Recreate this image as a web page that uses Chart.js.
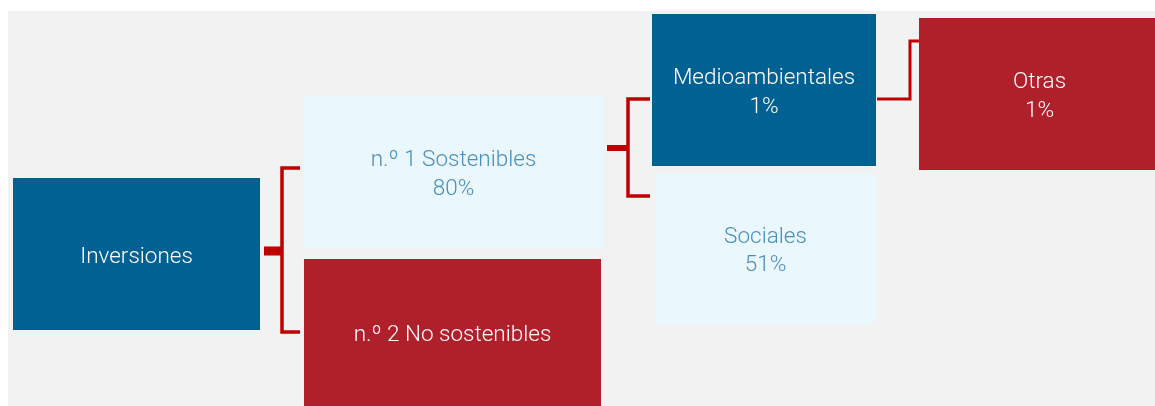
<!DOCTYPE html>
<html>
<head>
<meta charset="utf-8">
<script src="https://cdn.jsdelivr.net/npm/chart.js@4/dist/chart.umd.min.js"></script>
<style>
    html, body { margin: 0; padding: 0; background: #ffffff; }
    #wrap { width: 1155px; height: 406px; position: relative; }
</style>
</head>
<body>
<div id="wrap"><canvas id="chart-canvas"></canvas></div>
<script>
// tree nodes
const nodeLabels = ['Inversiones', 'n.º 1 Sostenibles', 'n.º 2 No sostenibles', 'Medioambientales', 'Sociales', 'Otras'];
const nodeValues = [null, 80, null, 1, 51, 1];
const nodeParents = [-1, 0, 0, 1, 1, 3];
const nodeKinds = ['dark', 'light', 'red', 'dark', 'light', 'red'];

// layout of the boxes, in axis units (x: 0..1155, y: 0..406 top-down)
const boxLeft = [13, 304, 304, 652, 655, 919];
const boxRight = [260, 603, 601, 876, 876, 1160];
const boxTop = [178, 96, 259, 14, 173, 18];
const boxBottom = [330, 248, 410, 166, 324, 170];

// connector paths, in axis units
const connectors = [
    { points: [[264, 251], [282, 251]], width: 9 },
    { points: [[300, 168], [282, 168], [282, 332], [300, 332]], width: 3.5 },
    { points: [[607, 148], [628, 148]], width: 6 },
    { points: [[650, 99], [628, 99], [628, 196], [650, 196]], width: 3.5 },
    { points: [[877, 99], [910, 99], [910, 41], [919, 41]], width: 3 }
];

const kindStyles = {
    dark: { fill: '#016192', text: '#ffffff' },
    light: { fill: '#eaf7fd', text: '#4a8fbd' },
    red: { fill: '#b0202b', text: '#ffffff' }
};

const ctx = document.getElementById('chart-canvas').getContext('2d');

const boxPlugin = {
    id: 'boxPlugin',
    beforeDatasetsDraw(chart) {
        const c = chart.ctx;
        const xs = chart.scales.x;
        const ys = chart.scales.y;
        // grey panel
        c.save();
        c.fillStyle = '#f2f2f2';
        c.fillRect(xs.getPixelForValue(8), ys.getPixelForValue(11),
            xs.getPixelForValue(1155) - xs.getPixelForValue(8),
            ys.getPixelForValue(406) - ys.getPixelForValue(11));

        nodeLabels.forEach((label, i) => {
            const style = kindStyles[nodeKinds[i]];
            const x0 = xs.getPixelForValue(boxLeft[i]);
            const x1 = xs.getPixelForValue(boxRight[i]);
            const y0 = ys.getPixelForValue(boxTop[i]);
            const y1 = ys.getPixelForValue(boxBottom[i]);
            c.fillStyle = style.fill;
            c.fillRect(x0, y0, x1 - x0, y1 - y0);

            const lines = [label];
            if (nodeValues[i] !== null) lines.push(nodeValues[i] + '%');
            const cx = (x0 + x1) / 2;
            // the bottom box is cut off by the panel, centre on the visible part
            const visBottom = Math.min(y1, ys.getPixelForValue(406));
            const cy = (y0 + visBottom) / 2 + 3;
            const lineH = 28.5;
            c.fillStyle = style.text;
            c.font = '300 22.5px Roboto, "Liberation Sans", sans-serif';
            c.textAlign = 'center';
            c.textBaseline = 'middle';
            lines.forEach((t, k) => {
                c.fillText(t, cx, cy + (k - (lines.length - 1) / 2) * lineH);
            });
        });
        c.restore();
    }
};

new Chart(ctx, {
    type: 'scatter',
    data: {
        datasets: connectors.map((conn) => ({
            data: conn.points.map((p) => ({ x: p[0], y: p[1] })),
            showLine: true,
            borderColor: '#c00000',
            borderWidth: conn.width,
            borderJoinStyle: 'miter',
            borderCapStyle: 'butt',
            pointRadius: 0,
            fill: false,
            tension: 0
        }))
    },
    options: {
        responsive: true,
        maintainAspectRatio: false,
        animation: false,
        layout: { padding: 0 },
        plugins: {
            legend: { display: false },
            tooltip: { enabled: false }
        },
        scales: {
            x: { type: 'linear', min: 0, max: 1155, display: false },
            y: { type: 'linear', min: 0, max: 406, reverse: true, display: false }
        }
    },
    plugins: [boxPlugin]
});
</script>
</body>
</html>
